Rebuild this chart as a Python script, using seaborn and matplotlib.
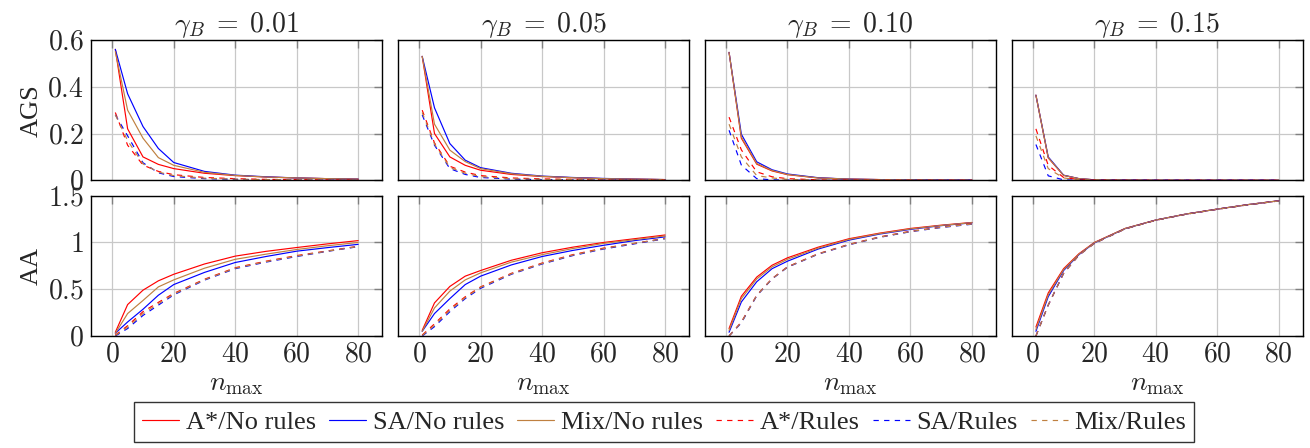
import matplotlib
matplotlib.use("Agg")
import matplotlib.pyplot as plt
import seaborn as sns
import pandas as pd
from matplotlib.lines import Line2D

# ---------------- data ----------------
gammas = ["0.01", "0.05", "0.10", "0.15"]
n_max = [1, 5, 10, 15, 20, 30, 40, 50, 60, 70, 80]
series_names = ["A*/No rules", "SA/No rules", "Mix/No rules", "A*/Rules", "SA/Rules", "Mix/Rules"]

# AGS, one list per series, per gamma
ags_g001_astar_nr = [0.56, 0.22, 0.10, 0.068, 0.05, 0.03, 0.02, 0.014, 0.01, 0.007, 0.005]
ags_g001_sa_nr = [0.56, 0.37, 0.23, 0.136, 0.076, 0.038, 0.022, 0.015, 0.01, 0.007, 0.005]
ags_g001_mix_nr = [0.55, 0.30, 0.18, 0.097, 0.064, 0.034, 0.021, 0.014, 0.01, 0.007, 0.005]
ags_g001_astar_r = [0.29, 0.15, 0.065, 0.038, 0.024, 0.012, 0.007, 0.004, 0.003, 0.002, 0.001]
ags_g001_sa_r = [0.28, 0.19, 0.075, 0.032, 0.016, 0.007, 0.004, 0.002, 0.001, 0.001, 0.0]
ags_g001_mix_r = [0.28, 0.17, 0.07, 0.035, 0.02, 0.009, 0.005, 0.003, 0.002, 0.001, 0.001]

ags_g005_astar_nr = [0.53, 0.20, 0.10, 0.064, 0.043, 0.025, 0.016, 0.011, 0.007, 0.005, 0.003]
ags_g005_sa_nr = [0.53, 0.31, 0.157, 0.086, 0.054, 0.03, 0.018, 0.012, 0.008, 0.005, 0.003]
ags_g005_mix_nr = [0.53, 0.24, 0.129, 0.08, 0.05, 0.028, 0.017, 0.011, 0.007, 0.005, 0.003]
ags_g005_astar_r = [0.30, 0.16, 0.06, 0.035, 0.02, 0.01, 0.006, 0.004, 0.002, 0.001, 0.001]
ags_g005_sa_r = [0.28, 0.15, 0.05, 0.025, 0.012, 0.005, 0.003, 0.002, 0.001, 0.0, 0.0]
ags_g005_mix_r = [0.29, 0.155, 0.055, 0.03, 0.016, 0.007, 0.004, 0.003, 0.001, 0.001, 0.0]

ags_g010_astar_nr = [0.547, 0.18, 0.069, 0.04, 0.024, 0.01, 0.005, 0.003, 0.002, 0.001, 0.001]
ags_g010_sa_nr = [0.547, 0.197, 0.079, 0.045, 0.027, 0.011, 0.005, 0.003, 0.002, 0.001, 0.001]
ags_g010_mix_nr = [0.547, 0.185, 0.072, 0.042, 0.025, 0.01, 0.005, 0.003, 0.002, 0.001, 0.001]
ags_g010_astar_r = [0.27, 0.13, 0.036, 0.015, 0.007, 0.002, 0.001, 0.0, 0.0, 0.0, 0.0]
ags_g010_sa_r = [0.214, 0.065, 0.007, 0.002, 0.001, 0.0, 0.0, 0.0, 0.0, 0.0, 0.0]
ags_g010_mix_r = [0.24, 0.10, 0.02, 0.01, 0.004, 0.001, 0.0, 0.0, 0.0, 0.0, 0.0]

ags_g015_astar_nr = [0.364, 0.096, 0.021, 0.007, 0.002, 0.001, 0.0, 0.0, 0.0, 0.0, 0.0]
ags_g015_sa_nr = [0.364, 0.10, 0.022, 0.007, 0.002, 0.001, 0.0, 0.0, 0.0, 0.0, 0.0]
ags_g015_mix_nr = [0.364, 0.097, 0.021, 0.007, 0.002, 0.001, 0.0, 0.0, 0.0, 0.0, 0.0]
ags_g015_astar_r = [0.22, 0.064, 0.012, 0.003, 0.001, 0.0, 0.0, 0.0, 0.0, 0.0, 0.0]
ags_g015_sa_r = [0.153, 0.019, 0.002, 0.0, 0.0, 0.0, 0.0, 0.0, 0.0, 0.0, 0.0]
ags_g015_mix_r = [0.19, 0.05, 0.01, 0.002, 0.001, 0.0, 0.0, 0.0, 0.0, 0.0, 0.0]

# AA
aa_g001_astar_nr = [0.04, 0.336, 0.49, 0.59, 0.66, 0.77, 0.854, 0.905, 0.946, 0.985, 1.02]
aa_g001_sa_nr = [0.03, 0.15, 0.286, 0.436, 0.55, 0.68, 0.786, 0.85, 0.907, 0.945, 0.98]
aa_g001_mix_nr = [0.03, 0.24, 0.38, 0.525, 0.60, 0.725, 0.82, 0.875, 0.925, 0.965, 1.0]
aa_g001_astar_r = [0.01, 0.11, 0.26, 0.36, 0.455, 0.607, 0.73, 0.80, 0.86, 0.91, 0.96]
aa_g001_sa_r = [0.0, 0.08, 0.22, 0.33, 0.44, 0.597, 0.72, 0.79, 0.85, 0.905, 0.955]
aa_g001_mix_r = [0.005, 0.095, 0.24, 0.345, 0.448, 0.602, 0.725, 0.795, 0.855, 0.907, 0.957]

aa_g005_astar_nr = [0.06, 0.354, 0.53, 0.64, 0.70, 0.81, 0.89, 0.95, 1.0, 1.04, 1.08]
aa_g005_sa_nr = [0.05, 0.24, 0.40, 0.55, 0.64, 0.76, 0.85, 0.915, 0.97, 1.02, 1.06]
aa_g005_mix_nr = [0.05, 0.30, 0.48, 0.60, 0.675, 0.79, 0.87, 0.935, 0.99, 1.03, 1.07]
aa_g005_astar_r = [0.01, 0.13, 0.29, 0.42, 0.525, 0.67, 0.78, 0.87, 0.94, 0.99, 1.045]
aa_g005_sa_r = [0.0, 0.10, 0.26, 0.40, 0.51, 0.66, 0.77, 0.86, 0.93, 0.985, 1.04]
aa_g005_mix_r = [0.005, 0.115, 0.275, 0.41, 0.52, 0.665, 0.775, 0.865, 0.935, 0.99, 1.042]

aa_g010_astar_nr = [0.08, 0.425, 0.63, 0.757, 0.836, 0.95, 1.04, 1.10, 1.15, 1.185, 1.214]
aa_g010_sa_nr = [0.04, 0.364, 0.58, 0.72, 0.80, 0.93, 1.025, 1.09, 1.14, 1.18, 1.21]
aa_g010_mix_nr = [0.06, 0.40, 0.61, 0.74, 0.82, 0.94, 1.033, 1.095, 1.145, 1.182, 1.212]
aa_g010_astar_r = [0.0, 0.15, 0.436, 0.614, 0.74, 0.88, 0.98, 1.06, 1.12, 1.165, 1.20]
aa_g010_sa_r = [0.0, 0.14, 0.43, 0.61, 0.735, 0.875, 0.975, 1.055, 1.115, 1.16, 1.195]
aa_g010_mix_r = [0.0, 0.145, 0.433, 0.612, 0.737, 0.877, 0.977, 1.057, 1.117, 1.162, 1.197]

aa_g015_astar_nr = [0.096, 0.46, 0.72, 0.88, 1.0, 1.15, 1.24, 1.305, 1.357, 1.405, 1.446]
aa_g015_sa_nr = [0.05, 0.42, 0.70, 0.87, 0.995, 1.148, 1.24, 1.305, 1.357, 1.405, 1.446]
aa_g015_mix_nr = [0.07, 0.44, 0.71, 0.875, 0.998, 1.149, 1.24, 1.305, 1.357, 1.405, 1.446]
aa_g015_astar_r = [0.0, 0.33, 0.67, 0.865, 0.99, 1.145, 1.238, 1.303, 1.355, 1.403, 1.444]
aa_g015_sa_r = [0.0, 0.33, 0.67, 0.865, 0.99, 1.145, 1.238, 1.303, 1.355, 1.403, 1.444]
aa_g015_mix_r = [0.0, 0.33, 0.67, 0.865, 0.99, 1.145, 1.238, 1.303, 1.355, 1.403, 1.444]

x_ticks = [0, 20, 40, 60, 80]
x_tick_labels = ["0", "20", "40", "60", "80"]
ags_ticks = [0, 0.2, 0.4, 0.6]
ags_tick_labels = ["0", "0.2", "0.4", "0.6"]
aa_ticks = [0, 0.5, 1, 1.5]
aa_tick_labels = ["0", "0.5", "1", "1.5"]

ags_data = [
    [ags_g001_astar_nr, ags_g001_sa_nr, ags_g001_mix_nr, ags_g001_astar_r, ags_g001_sa_r, ags_g001_mix_r],
    [ags_g005_astar_nr, ags_g005_sa_nr, ags_g005_mix_nr, ags_g005_astar_r, ags_g005_sa_r, ags_g005_mix_r],
    [ags_g010_astar_nr, ags_g010_sa_nr, ags_g010_mix_nr, ags_g010_astar_r, ags_g010_sa_r, ags_g010_mix_r],
    [ags_g015_astar_nr, ags_g015_sa_nr, ags_g015_mix_nr, ags_g015_astar_r, ags_g015_sa_r, ags_g015_mix_r],
]
aa_data = [
    [aa_g001_astar_nr, aa_g001_sa_nr, aa_g001_mix_nr, aa_g001_astar_r, aa_g001_sa_r, aa_g001_mix_r],
    [aa_g005_astar_nr, aa_g005_sa_nr, aa_g005_mix_nr, aa_g005_astar_r, aa_g005_sa_r, aa_g005_mix_r],
    [aa_g010_astar_nr, aa_g010_sa_nr, aa_g010_mix_nr, aa_g010_astar_r, aa_g010_sa_r, aa_g010_mix_r],
    [aa_g015_astar_nr, aa_g015_sa_nr, aa_g015_mix_nr, aa_g015_astar_r, aa_g015_sa_r, aa_g015_mix_r],
]

# ---------------- style ----------------
sns.set_style("white")
plt.rcParams["font.family"] = ["Liberation Serif", "DejaVu Serif"]
plt.rcParams["mathtext.fontset"] = "cm"

colors = ["#ff0000", "#0000ff", "#bf8040", "#ff0000", "#0000ff", "#bf8040"]
dashed = [False, False, False, True, True, True]
LW = 0.85
DASH = (4.5, 4.5)

fig, axes = plt.subplots(2, 4, figsize=(13.10, 4.48), dpi=100)
fig.subplots_adjust(left=0.0695, right=0.9947, top=0.9107, bottom=0.25,
                    wspace=0.053, hspace=0.11)

FS = 19
TFS = 20

def style_axis(ax, yticks, ylabels, ylim, show_x, show_y):
    ax.set_xlim(-6.9, 87.9)
    ax.set_ylim(*ylim)
    ax.set_xticks(x_ticks)
    ax.set_yticks(yticks)
    ax.grid(True, color="#c8c8c8", linewidth=0.9)
    ax.set_axisbelow(True)
    ax.tick_params(direction="in", top=True, right=True, length=6,
                   width=1.0, color="#808080", labelsize=TFS, pad=5)
    if show_x:
        ax.set_xticklabels(["$" + t + "$" for t in x_tick_labels])
    else:
        ax.set_xticklabels([])
    if show_y:
        ax.set_yticklabels(["$" + t + "$" for t in ylabels])
    else:
        ax.set_yticklabels([])
    for s in ax.spines.values():
        s.set_color("black")
        s.set_linewidth(1.0)
    ax.set_xlabel("")
    ax.set_ylabel("")

for j in range(4):
    for row, (data, ticks, labels, ylim) in enumerate([
        (ags_data[j], ags_ticks, ags_tick_labels, (0, 0.6)),
        (aa_data[j], aa_ticks, aa_tick_labels, (0, 1.5)),
    ]):
        ax = axes[row, j]
        for k, vals in enumerate(data):
            df = pd.DataFrame({"n": n_max, "v": vals})
            sns.lineplot(data=df, x="n", y="v", ax=ax, color=colors[k],
                         linewidth=LW, legend=False,
                         dashes=False, estimator=None)
            if dashed[k]:
                ax.lines[-1].set_dashes(DASH)
        style_axis(ax, ticks, labels, ylim, show_x=(row == 1), show_y=(j == 0))
    axes[0, j].set_title(r"$\gamma_B \;=\; " + gammas[j] + "$", fontsize=TFS, pad=6)
    axes[1, j].set_xlabel(r"$n_{\max}$", fontsize=TFS, labelpad=3)

axes[0, 0].set_ylabel("AGS", fontsize=FS, labelpad=3)
axes[1, 0].set_ylabel("AA", fontsize=FS, labelpad=3)
fig.align_ylabels(axes[:, 0])

handles = []
for k in range(6):
    h = Line2D([0], [0], color=colors[k], linewidth=LW,
               linestyle=(0, DASH) if dashed[k] else "-")
    handles.append(h)
leg = fig.legend(handles, series_names, loc="center", ncol=6,
                 bbox_to_anchor=(0.507, 0.058), fontsize=FS, frameon=True,
                 fancybox=False, edgecolor="black", handlelength=1.4,
                 handletextpad=0.25, columnspacing=0.5, borderpad=0.3)
leg.get_frame().set_linewidth(1.0)

fig.savefig("out.png", dpi=100)
